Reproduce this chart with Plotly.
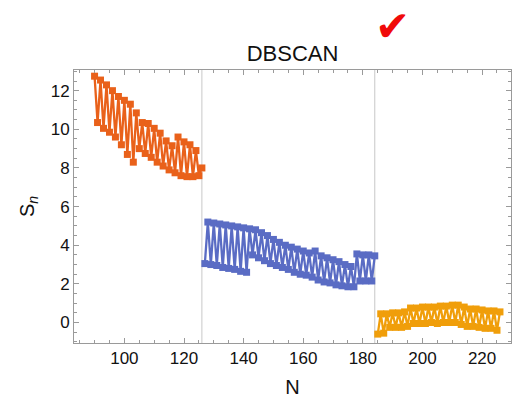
import plotly.graph_objects as go

# Cluster 1 (N = 90 .. 126)
n_c1 = list(range(90, 127))
s_c1 = [12.75, 10.35, 12.55, 10.05, 12.3, 9.85, 12.0, 9.6, 11.7, 9.2,
        11.5, 8.7, 11.3, 8.3, 10.85, 9.0, 10.35, 8.75, 10.3, 8.55,
        10.05, 8.3, 9.8, 8.1, 9.4, 7.9, 9.15, 7.75, 9.6, 7.6,
        9.35, 7.55, 9.2, 7.55, 8.9, 7.6, 8.0]

# Cluster 2 (N = 127 .. 184)
n_c2 = list(range(127, 185))
s_c2 = [3.05, 5.2, 3.0, 5.15, 2.95, 5.1, 2.85, 5.05, 2.8, 5.0,
        2.75, 4.95, 2.65, 4.9, 2.6, 4.85, 3.5, 4.8, 3.35, 4.65,
        3.2, 4.5, 3.05, 4.3, 2.95, 4.15, 2.85, 4.0, 2.75, 3.9,
        2.6, 3.8, 2.5, 3.7, 2.45, 3.6, 2.35, 3.7, 2.2, 3.45,
        2.1, 3.35, 2.05, 3.25, 1.95, 3.15, 1.9, 3.0, 1.85, 2.9,
        1.85, 3.55, 2.15, 3.5, 2.15, 3.5, 2.15, 3.45]

# Cluster 3 (N = 185 .. 226)
n_c3 = list(range(185, 227))
s_c3 = [-0.6, 0.45, -0.55, 0.45, -0.25, 0.5, -0.25, 0.5, -0.25, 0.55,
        -0.2, 0.75, -0.05, 0.75, -0.05, 0.8, -0.05, 0.8, 0.0, 0.8,
        -0.05, 0.85, 0.0, 0.85, 0.0, 0.9, 0.0, 0.9, -0.1, 0.8,
        -0.2, 0.7, -0.2, 0.7, -0.25, 0.65, -0.3, 0.6, -0.3, 0.6,
        -0.4, 0.55]

# Cluster boundaries marked with vertical rules
boundaries = [126, 184]

colors = ["#E9611A", "#5A6CC4", "#F09E0A"]
font_family = "Liberation Sans, Arial, sans-serif"

fig = go.Figure()
for xs, ys, c in [(n_c1, s_c1, colors[0]), (n_c2, s_c2, colors[1]), (n_c3, s_c3, colors[2])]:
    fig.add_trace(go.Scatter(
        x=xs, y=ys, mode="lines+markers",
        line=dict(color=c, width=2.3),
        marker=dict(symbol="square", size=7, color=c),
        showlegend=False, hoverinfo="skip",
    ))

for b in boundaries:
    fig.add_shape(type="line", xref="x", yref="paper", x0=b, x1=b, y0=0, y1=1,
                  line=dict(color="#C8C8C8", width=1), layer="below")

frame = "#9A9A9A"
axis_common = dict(
    showline=True, linecolor=frame, linewidth=1, mirror="ticks",
    ticks="inside", tickcolor=frame, ticklen=5, tickwidth=1,
    showgrid=False, zeroline=False,
    tickfont=dict(family=font_family, size=17, color="#111111"),
)

fig.update_xaxes(
    range=[83.1, 229.7], tick0=100, dtick=20,
    minor=dict(ticks="inside", ticklen=3, dtick=5, tick0=0, tickcolor=frame),
    title=dict(text="N", font=dict(family=font_family, size=20, color="#111111"),
               standoff=12),
    **axis_common,
)
fig.update_yaxes(
    range=[-1.06, 13.07], tick0=0, dtick=2,
    minor=dict(ticks="inside", ticklen=3, dtick=0.5, tick0=0, tickcolor=frame),
    title=dict(text="S<sub><i>n</i></sub>", font=dict(family=font_family, size=20, color="#111111"),
               standoff=10),
    **axis_common,
)

fig.update_layout(
    width=513, height=406,
    margin=dict(l=74, r=2, t=70, b=63),
    paper_bgcolor="white", plot_bgcolor="white",
    title=dict(text="DBSCAN", x=0.5, xref="paper", xanchor="center",
               y=1 - 53 / 406, yref="container", yanchor="middle",
               font=dict(family=font_family, size=22, color="#111111")),
)

# Red check mark beside the title
fig.add_annotation(
    text="✔", xref="paper", yref="paper", x=0.728, y=1.158,
    xanchor="center", yanchor="middle", showarrow=False,
    font=dict(family="DejaVu Sans", size=42, color="#F00A0A"),
)

fig.write_html("out.html")
